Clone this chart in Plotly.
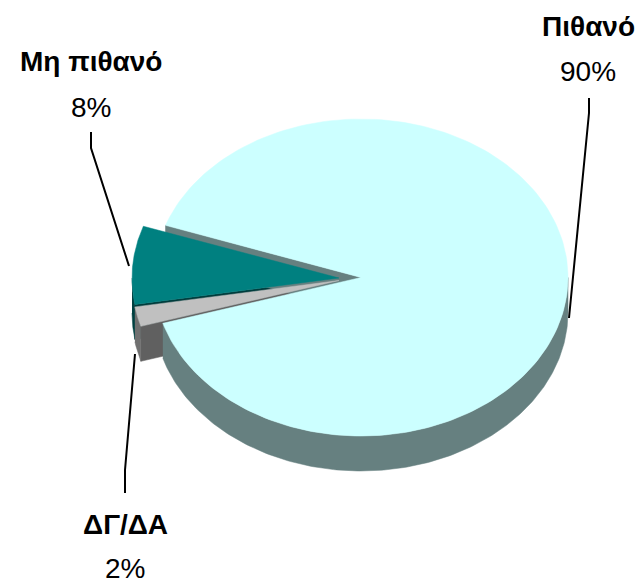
import numpy as np
import plotly.graph_objects as go

labels = ['Πιθανό', 'Μη πιθανό', 'ΔΓ/ΔΑ']
values = [90, 8, 2]
top_colors = ['#CCFFFF', '#008080', '#C0C0C0']
side_colors = ['#668080', '#004040', '#707070']
cut_colors = ['#668080', '#003C3C', '#606060']

# where each exploded slice has its apex on the page
centers = [(361, 277.5), (339, 278), (339, 280.5)]
label_pos = [(588, 26, 71), (91, 61, 107), (125, 524, 568.5)]
leaders = [
    [(589, 98), (589, 113), (569, 318)],
    [(91, 132), (91, 148), (129, 266)],
    [(135, 354), (125, 470), (125, 493)],
]

RX = 207
RY = 158.5
DEPTH = 35
START_ANGLE = 160.8

# slice angles come from the values, the order runs counter clockwise on the page
spans = [v / sum(values) * 360 for v in values]
start_teal = START_ANGLE
end_teal = start_teal + spans[1]
end_gray = end_teal + spans[2]
angles = [(end_gray, START_ANGLE + 360), (start_teal, end_teal), (end_teal, end_gray)]


def rim(i, a0, a1, drop=0):
    t = np.radians(np.linspace(a0, a1, 200))
    cx, cy = centers[i]
    return cx + RX * np.cos(t), cy - RY * np.sin(t) + drop


def poly(fig, x, y, color):
    fig.add_trace(go.Scatter(x=list(x), y=list(y), mode='lines', fill='toself',
                             fillcolor=color, line=dict(color=color, width=0.5),
                             hoverinfo='skip', showlegend=False))


def top_face(fig, i):
    x, y = rim(i, *angles[i])
    cx, cy = centers[i]
    poly(fig, np.r_[cx, x, cx], np.r_[cy, y, cy], top_colors[i])


def outer_wall(fig, i, a0, a1):
    x, y = rim(i, a0, a1)
    x2, y2 = rim(i, a0, a1, DEPTH)
    poly(fig, np.r_[x, x2[::-1]], np.r_[y, y2[::-1]], side_colors[i])


def cut_wall(fig, i, angle):
    cx, cy = centers[i]
    x, y = rim(i, angle, angle)
    x, y = x[0], y[0]
    poly(fig, [cx, x, x, cx, cx], [cy, y, y + DEPTH, cy + DEPTH, cy], cut_colors[i])


fig = go.Figure()

# back to front: walls first, main top covers most of them
cut_wall(fig, 1, end_teal)
outer_wall(fig, 1, 180, end_teal)
cut_wall(fig, 2, end_gray)
outer_wall(fig, 2, end_teal, end_gray)
outer_wall(fig, 0, end_gray, 360)
cut_wall(fig, 0, START_ANGLE)
top_face(fig, 0)
top_face(fig, 1)
top_face(fig, 2)

for pts in leaders:
    fig.add_trace(go.Scatter(x=[p[0] for p in pts], y=[p[1] for p in pts], mode='lines',
                             line=dict(color='black', width=2),
                             hoverinfo='skip', showlegend=False))

for i, name in enumerate(labels):
    x, y_name, y_val = label_pos[i]
    fig.add_annotation(x=x, y=y_name, text='<b>%s</b>' % name, showarrow=False,
                       font=dict(family='Liberation Sans', size=28, color='black'))
    fig.add_annotation(x=x, y=y_val, text='%d%%' % values[i], showarrow=False,
                       font=dict(family='Liberation Sans', size=28, color='black'))

fig.update_xaxes(range=[0, 640], visible=False, fixedrange=True)
fig.update_yaxes(range=[585, 0], visible=False, fixedrange=True)
fig.update_layout(width=640, height=585, margin=dict(l=0, r=0, t=0, b=0),
                  plot_bgcolor='white', paper_bgcolor='white', showlegend=False)

# the page's default body margin would push the figure 8px off
fig.write_html("out.html", config=dict(displayModeBar=False),
               post_script="document.body.style.margin='0';document.body.style.overflow='hidden';")
